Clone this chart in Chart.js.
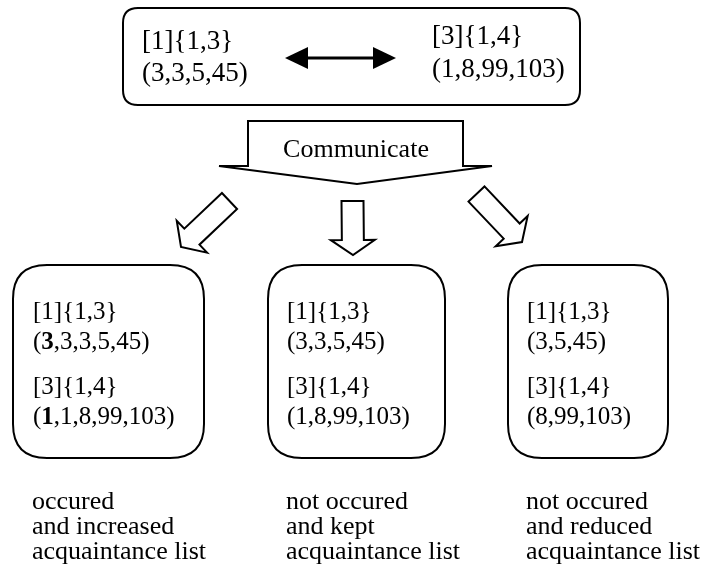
<!DOCTYPE html>
<html>
<head>
<meta charset="utf-8">
<script src="https://cdn.jsdelivr.net/npm/chart.js@4"></script>
<style>
  html, body { margin: 0; padding: 0; background: #fff; }
  #wrap { width: 709px; height: 581px; }
</style>
</head>
<body>
<div id="wrap"><canvas id="diagram" width="709" height="581"></canvas></div>
<script>
// --- Diagram data ---
const nodeLabels = ['[1]{1,3}', '[3]{1,4}'];          // node id + neighbour set
const listsBefore = [[3, 3, 5, 45], [1, 8, 99, 103]]; // acquaintance lists before
const actionLabel = 'Communicate';
const listsAfter = [                                   // lists after, per outcome
  [[3, 3, 3, 5, 45], [1, 1, 8, 99, 103]],
  [[3, 3, 5, 45], [1, 8, 99, 103]],
  [[3, 5, 45], [8, 99, 103]]
];
const boldFirst = [true, false, false];                // new entry shown in bold
const captions = [
  ['occured', 'and increased', 'acquaintance list'],
  ['not occured', 'and kept', 'acquaintance list'],
  ['not occured', 'and reduced', 'acquaintance list']
];

// --- Layout (in axis units, 1 unit = 1px) ---
const FONT = '"Liberation Serif", "Times New Roman", serif';
const topBox = { x0: 123, y0: 8, x1: 580, y1: 105 };
const topText = [{ x: 142, y: [49, 81] }, { x: 432, y: [44, 77] }];
const lowBoxes = [
  { x0: 13, y0: 265, x1: 204, y1: 458, tx: 33 },
  { x0: 268, y0: 265, x1: 445, y1: 458, tx: 287 },
  { x0: 508, y0: 265, x1: 668, y1: 458, tx: 527 }
];
const lowBaselines = [319, 349, 394, 424];
const captionBaselines = [509, 534, 559];
const sideArrows = [
  { s: [229.5, 201], t: [181, 247] },
  { s: [352.5, 201], t: [353, 255] },
  { s: [476.5, 194], t: [522, 242] }
];

function listText(arr) { return '(' + arr.join(',') + ')'; }

const diagramPlugin = {
  id: 'diagram',
  afterDraw(chart) {
    const ctx = chart.ctx;
    const X = v => chart.scales.x.getPixelForValue(v);
    const Y = v => chart.scales.y.getPixelForValue(v);
    ctx.save();
    ctx.strokeStyle = '#000';
    ctx.fillStyle = '#000';
    ctx.lineJoin = 'miter';

    function roundBox(b, r) {
      const x0 = X(b.x0), y0 = Y(b.y0), x1 = X(b.x1), y1 = Y(b.y1);
      ctx.beginPath();
      ctx.moveTo(x0 + r, y0);
      ctx.lineTo(x1 - r, y0);
      ctx.quadraticCurveTo(x1, y0, x1, y0 + r);
      ctx.lineTo(x1, y1 - r);
      ctx.quadraticCurveTo(x1, y1, x1 - r, y1);
      ctx.lineTo(x0 + r, y1);
      ctx.quadraticCurveTo(x0, y1, x0, y1 - r);
      ctx.lineTo(x0, y0 + r);
      ctx.quadraticCurveTo(x0, y0, x0 + r, y0);
      ctx.closePath();
      ctx.lineWidth = 2;
      ctx.stroke();
    }

    function poly(pts) {
      ctx.beginPath();
      pts.forEach((p, i) => i ? ctx.lineTo(X(p[0]), Y(p[1])) : ctx.moveTo(X(p[0]), Y(p[1])));
      ctx.closePath();
    }

    // outlined block arrow from s to tip t
    function blockArrow(s, t, shaft, head, headLen) {
      const dx = t[0] - s[0], dy = t[1] - s[1];
      const len = Math.hypot(dx, dy);
      const d = [dx / len, dy / len], p = [-d[1], d[0]];
      const b = [t[0] - d[0] * headLen, t[1] - d[1] * headLen];
      const at = (o, k) => [o[0] + p[0] * k, o[1] + p[1] * k];
      poly([at(s, shaft), at(b, shaft), at(b, head), t, at(b, -head), at(b, -shaft), at(s, -shaft)]);
      ctx.lineWidth = 2;
      ctx.fillStyle = '#fff';
      ctx.fill();
      ctx.stroke();
      ctx.fillStyle = '#000';
    }

    // list text, optionally with the first value in bold
    function listLine(arr, x, y, bold, size) {
      ctx.textBaseline = 'alphabetic';
      ctx.textAlign = 'left';
      let cx = X(x);
      const parts = bold
        ? [['(', false], [String(arr[0]), true], [',' + arr.slice(1).join(',') + ')', false]]
        : [[listText(arr), false]];
      parts.forEach(([txt, b]) => {
        ctx.font = (b ? 'bold ' : '') + size + 'px ' + FONT;
        ctx.fillText(txt, cx, Y(y));
        cx += ctx.measureText(txt).width;
      });
    }

    function label(txt, x, y, size, align) {
      ctx.font = size + 'px ' + FONT;
      ctx.textAlign = align || 'left';
      ctx.textBaseline = 'alphabetic';
      ctx.fillText(txt, X(x), Y(y));
    }

    // top box with the two nodes
    roundBox(topBox, 15);
    nodeLabels.forEach((n, i) => {
      label(n, topText[i].x, topText[i].y[0], 27);
      listLine(listsBefore[i], topText[i].x, topText[i].y[1], false, 27);
    });

    // double-headed arrow
    ctx.lineWidth = 3;
    ctx.beginPath();
    ctx.moveTo(X(300), Y(58));
    ctx.lineTo(X(380), Y(58));
    ctx.stroke();
    poly([[285, 58], [308, 47], [308, 69]]); ctx.fill();
    poly([[396, 58], [373, 47], [373, 69]]); ctx.fill();

    // Communicate arrow
    poly([[248, 121], [463, 121], [463, 166], [492, 166], [357, 184], [219, 166], [248, 166]]);
    ctx.lineWidth = 2;
    ctx.stroke();
    label(actionLabel, 356, 157, 26, 'center');

    // three outcome arrows
    sideArrows.forEach(a => blockArrow(a.s, a.t, 11, 22, 15));

    // outcome boxes
    lowBoxes.forEach((b, i) => {
      roundBox(b, 34);
      label(nodeLabels[0], b.tx, lowBaselines[0], 25);
      listLine(listsAfter[i][0], b.tx, lowBaselines[1], boldFirst[i], 25);
      label(nodeLabels[1], b.tx, lowBaselines[2], 25);
      listLine(listsAfter[i][1], b.tx, lowBaselines[3], boldFirst[i], 25);
      captions[i].forEach((c, j) => label(c, b.tx - 1, captionBaselines[j], 26));
    });
    ctx.restore();
  }
};

const chart = new Chart(document.getElementById('diagram'), {
  type: 'scatter',
  data: { datasets: [{ data: [], pointRadius: 0 }] },
  options: {
    responsive: false,
    animation: false,
    layout: { padding: 0 },
    plugins: { legend: { display: false }, tooltip: { enabled: false } },
    scales: {
      x: { type: 'linear', min: 0, max: 709, display: false },
      y: { type: 'linear', min: 0, max: 581, reverse: true, display: false }
    }
  },
  plugins: [diagramPlugin]
});
</script>
</body>
</html>
